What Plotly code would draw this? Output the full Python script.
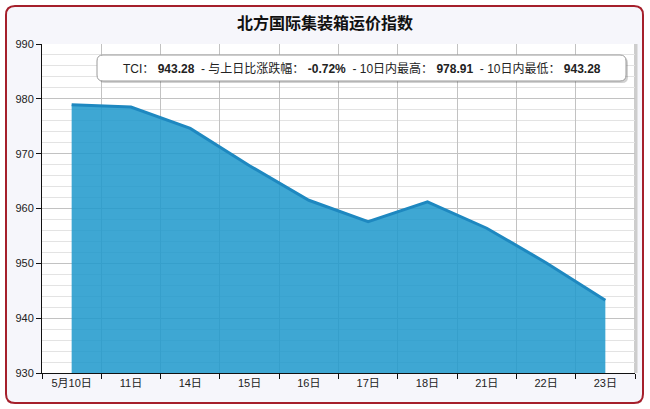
import plotly.graph_objects as go

# ---- data ----
categories = ["5月10日", "11日", "14日", "15日", "16日", "17日", "18日", "21日", "22日", "23日"]
values = [978.91, 978.5, 974.6, 967.8, 961.5, 957.6, 961.2, 956.4, 950.12, 943.28]
y_ticks = [930, 940, 950, 960, 970, 980, 990]
title_text = "北方国际集装箱运价指数"

tci = values[-1]
change_pct = (values[-1] / values[-2] - 1) * 100
high = max(values)
low = min(values)

# ---- layout geometry ----
W, H = 650, 409
L, R, T, B = 42, 15, 44, 36
PW, PH = W - L - R, H - T - B


def px(x):
    return (x - L) / PW


def py(y):
    return (H - B - y) / PH


def rrect(x0, y0, x1, y1, r):
    return (f"M {px(x0 + r)},{py(y0)} L {px(x1 - r)},{py(y0)} "
            f"Q {px(x1)},{py(y0)} {px(x1)},{py(y0 + r)} L {px(x1)},{py(y1 - r)} "
            f"Q {px(x1)},{py(y1)} {px(x1 - r)},{py(y1)} L {px(x0 + r)},{py(y1)} "
            f"Q {px(x0)},{py(y1)} {px(x0)},{py(y1 - r)} L {px(x0)},{py(y0 + r)} "
            f"Q {px(x0)},{py(y0)} {px(x0 + r)},{py(y0)} Z")


FONT = "Liberation Sans, Noto Sans CJK SC, sans-serif"
CJK = "Noto Sans CJK SC, sans-serif"

fig = go.Figure()
fig.add_trace(go.Scatter(
    x=categories, y=values, mode="lines", fill="tozeroy",
    fillcolor="rgba(30,153,204,0.86)",
    line=dict(color="rgb(30,136,192)", width=3),
    hoverinfo="skip", showlegend=False,
))

shapes = [
    # outer frame
    dict(type="path", xref="paper", yref="paper", path=rrect(6, 6, 643, 403, 9),
         fillcolor="#f6f6fb", line=dict(color="#a51f2b", width=2), layer="below"),
    # plot background
    dict(type="rect", xref="paper", yref="paper", x0=0, x1=1, y0=0, y1=1,
         fillcolor="white", line=dict(width=0), layer="below"),
    # right shadow of plot area
    dict(type="rect", xref="paper", yref="paper", x0=px(634), x1=px(637.5), y0=0, y1=1,
         fillcolor="#cdcdcd", line=dict(width=0), layer="below"),
    # info box shadow
    dict(type="path", xref="paper", yref="paper", path=rrect(99, 57, 628, 83, 6),
         fillcolor="rgba(0,0,0,0.18)", line=dict(width=0), layer="above"),
    # info box
    dict(type="path", xref="paper", yref="paper", path=rrect(97, 55, 626, 81, 6),
         fillcolor="white", line=dict(color="#9a9a9a", width=1), layer="above"),
]

sp = "\u00a0"
info = (f"TCI：{sp}<b>{tci:.2f}</b>{sp}{sp}-{sp}与上日比涨跌幅：{sp}<b>{change_pct:.2f}%</b>"
        f"{sp}{sp}-{sp}10日内最高：{sp}<b>{high:.2f}</b>{sp}{sp}-{sp}10日内最低：{sp}<b>{low:.2f}</b>")

annotations = [
    dict(text=f"<b>{title_text}</b>", xref="paper", yref="paper", x=px(325), y=py(22),
         xanchor="center", yanchor="middle", showarrow=False,
         font=dict(family=CJK, size=16, color="#111")),
    dict(text=info, xref="paper", yref="paper", x=px(361.5), y=py(68),
         xanchor="center", yanchor="middle", showarrow=False,
         font=dict(family=FONT, size=12, color="#222")),
]

fig.update_layout(
    width=W, height=H,
    margin=dict(l=L, r=R, t=T, b=B, pad=0),
    paper_bgcolor="white", plot_bgcolor="white",
    shapes=shapes, annotations=annotations,
    font=dict(family=FONT, size=11, color="#222"),
    xaxis=dict(type="category", range=[-0.5, 9.5], tickson="boundaries",
               ticks="outside", ticklen=5, tickcolor="#111",
               showline=True, linecolor="#111", linewidth=1,
               showgrid=True, gridcolor="#c2c2c2", gridwidth=1,
               tickfont=dict(family=FONT, size=11, color="#222"), fixedrange=True),
    yaxis=dict(range=[930, 990], tickvals=y_ticks, ticks="outside", ticklen=5,
               tickcolor="#111", showline=True, linecolor="#111", linewidth=1,
               showgrid=True, gridcolor="#c2c2c2", gridwidth=1, zeroline=False,
               minor=dict(dtick=2, showgrid=True, gridcolor="#e3e3e3", ticks=""),
               tickfont=dict(family=FONT, size=11, color="#222"), fixedrange=True),
)

fig.write_html("out.html", config={"displayModeBar": False},
               post_script="document.body.style.margin='0px';document.body.style.overflow='hidden';")
